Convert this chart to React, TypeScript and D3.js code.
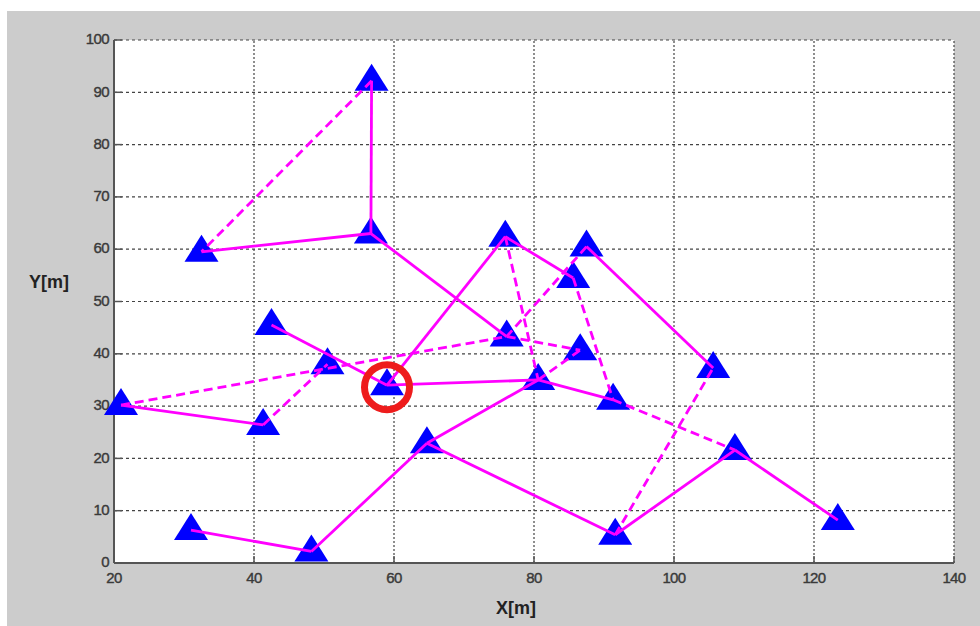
import React from "react";
import * as d3 from "d3";

const nodeX = [56.8, 56.7, 32.5, 42.5, 50.5, 59.0, 21.0, 41.3, 31.0, 48.2, 64.7, 75.9, 87.5, 85.6, 76.1, 86.6, 80.6, 91.3, 105.6, 108.7, 123.4, 91.6];
const nodeY = [92.2, 63.0, 59.5, 45.5, 38.0, 34.0, 30.2, 26.4, 6.3, 2.2, 22.9, 62.4, 60.5, 54.5, 43.3, 40.7, 35.0, 31.2, 37.3, 21.6, 8.2, 5.4];

// edges (1-based node ids)
const edgeFrom = [1, 1, 2, 2, 4, 7, 8, 7, 15, 6, 6, 9, 10, 11, 17, 11, 22, 22, 20, 17, 18, 12, 14, 12, 13, 13];
const edgeTo = [2, 3, 3, 15, 6, 8, 5, 15, 16, 17, 12, 10, 11, 17, 16, 22, 20, 19, 21, 18, 20, 14, 18, 17, 15, 19];
const edgeDashed = [false, true, false, false, false, false, true, true, true, false, false, false, false, false, true, false, false, true, false, false, true, false, true, true, true, false];

const highlightNode = 6;

const xTicks = [20, 40, 60, 80, 100, 120, 140];
const yTicks = [0, 10, 20, 30, 40, 50, 60, 70, 80, 90, 100];

export default function App() {
  const W = 980, H = 626;
  const x = d3.scaleLinear().domain([20, 140]).range([114, 954]);
  const y = d3.scaleLinear().domain([0, 100]).range([563, 40]);
  const font = "'Liberation Sans', Arial, sans-serif";
  const tri = (cx: number, cy: number) =>
    `M${cx},${cy - 17} L${cx + 17},${cy + 10} L${cx - 17},${cy + 10} Z`;

  return (
    <svg width={W} height={H} style={{ position: "absolute", left: 0, top: 0 }}>
      <rect x={0} y={0} width={W} height={H} fill="#ffffff" />
      <rect x={7} y={11} width={W - 7} height={H - 11} fill="#cccccc" />
      <rect x={x(20)} y={y(100)} width={x(140) - x(20)} height={y(0) - y(100)} fill="#ffffff" />
      {/* grid */}
      {yTicks.map((t) => (
        <line key={"gy" + t} x1={x(20)} x2={x(140)} y1={y(t)} y2={y(t)} stroke="#444" strokeWidth={1.2} strokeDasharray="3,3" />
      ))}
      {xTicks.map((t) => (
        <line key={"gx" + t} x1={x(t)} x2={x(t)} y1={y(0)} y2={y(100)} stroke="#444" strokeWidth={1.2} strokeDasharray="2,2" />
      ))}
      {/* axes */}
      <line x1={x(20)} x2={x(20)} y1={y(0)} y2={y(100)} stroke="#555" strokeWidth={2} />
      <line x1={x(20)} x2={x(140)} y1={y(0)} y2={y(0)} stroke="#555" strokeWidth={2} />
      {yTicks.map((t) => (
        <line key={"ty" + t} x1={x(20)} x2={x(20) + 8} y1={y(t)} y2={y(t)} stroke="#555" strokeWidth={1.5} />
      ))}
      {xTicks.map((t) => (
        <line key={"tx" + t} x1={x(t)} x2={x(t)} y1={y(0)} y2={y(0) - 7} stroke="#555" strokeWidth={1.5} />
      ))}
      {yTicks.map((t) => (
        <text key={"ly" + t} x={x(20) - 5} y={y(t) - 1} dy="0.35em" textAnchor="end" fontFamily={font} fontSize={15} fill="#3a3a3a" stroke="#3a3a3a" strokeWidth={0.4} letterSpacing={-0.6}>
          {t}
        </text>
      ))}
      {xTicks.map((t) => (
        <text key={"lx" + t} x={x(t)} y={y(0) + 15} dy="0.35em" textAnchor="middle" fontFamily={font} fontSize={15} fill="#3a3a3a" stroke="#3a3a3a" strokeWidth={0.4} letterSpacing={-0.6}>
          {t}
        </text>
      ))}
      <text x={49} y={282} dy="0.35em" textAnchor="middle" fontFamily={font} fontSize={18} fontWeight="bold" fill="#222">Y[m]</text>
      <text x={516} y={608} dy="0.35em" textAnchor="middle" fontFamily={font} fontSize={18} fontWeight="bold" fill="#222">X[m]</text>
      {/* nodes */}
      {nodeX.map((vx, i) => (
        <path key={"n" + i} d={tri(x(vx), y(nodeY[i]))} fill="#0000ff" />
      ))}
      {/* edges */}
      {edgeFrom.map((f, i) => (
        <line
          key={"e" + i}
          x1={x(nodeX[f - 1])}
          y1={y(nodeY[f - 1])}
          x2={x(nodeX[edgeTo[i] - 1])}
          y2={y(nodeY[edgeTo[i] - 1])}
          stroke="#ff00ff"
          strokeWidth={2.8}
          strokeDasharray={edgeDashed[i] ? "9,5" : undefined}
        />
      ))}
      <circle cx={x(nodeX[highlightNode - 1])} cy={y(nodeY[highlightNode - 1]) + 2} r={22.5} fill="none" stroke="#ee1c1c" strokeWidth={7} />
    </svg>
  );
}
